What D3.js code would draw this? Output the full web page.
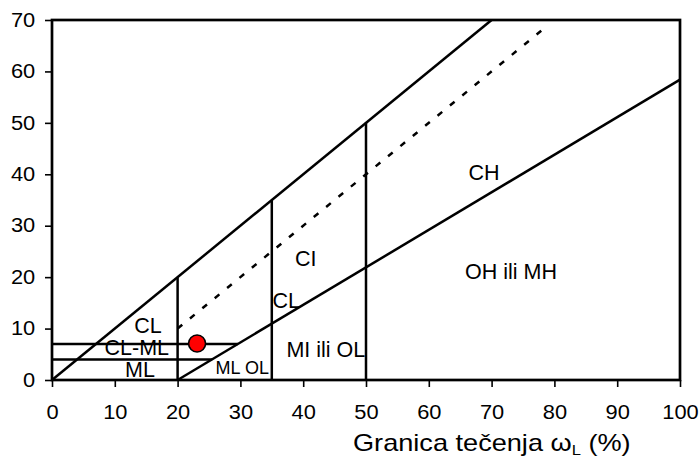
<!DOCTYPE html>
<html>
<head>
<meta charset="utf-8">
<script src="https://cdn.jsdelivr.net/npm/d3@7"></script>
<style>
  body { margin: 0; background: #fff; }
  text { font-family: "Liberation Sans", Arial, sans-serif; }
</style>
</head>
<body>
<div id="chart"></div>
<script>
// plasticity chart data (liquid limit vs plasticity index)
var xTicks = [0, 10, 20, 30, 40, 50, 60, 70, 80, 90, 100];
var yTicks = [0, 10, 20, 30, 40, 50, 60, 70];

// boundary lines, [x1, y1, x2, y2]
var solidLines = [
    [0, 0, 70, 70],          // upper line
    [20, 0, 100, 58.4],      // A-line 0.73(wL-20)
    [20, 0, 20, 20],
    [35, 0, 35, 35],
    [50, 0, 50, 50],
    [0, 7, 29.6, 7],
    [0, 4, 25.5, 4]
];
var dashedLines = [
    [20, 10, 79, 69]
];

var zoneNames = ["CL", "CL-ML", "ML", "ML OL", "MI ili OL", "CL", "CI", "CH", "OH ili MH"];
var zoneX = [15.3, 13.5, 14.0, 30.3, 43.6, 37.3, 40.4, 68.8, 73.1];
var zoneY = [9.1, 4.9, 0.6, 1.2, 4.5, 14.0, 22.2, 38.9, 19.6];

var samplePoint = [{wL: 23.1, Ip: 7.1}];

var width = 700, height = 457;
var margin = {left: 52, right: 20, top: 20, bottom: 77};
var sx = 1.12; // source text is a bit wider than Arial

var svg = d3.select("#chart")
    .append("svg")
    .attr("width", width)
    .attr("height", height);

var x = d3.scaleLinear()
    .domain([0, 100])
    .range([margin.left, width - margin.right]);

var y = d3.scaleLinear()
    .domain([0, 70])
    .range([height - margin.bottom, margin.top]);

// axes
svg.append("g")
    .attr("transform", "translate(0," + y(0) + ")")
    .call(d3.axisBottom(x).tickValues(xTicks).tickSize(7).tickPadding(18))
    .call(g => g.select(".domain").remove())
    .call(g => g.selectAll("line").attr("stroke", "#000").attr("stroke-width", 1.6))
    .selectAll("text")
        .attr("font-size", "19.5")
        .attr("fill", "#000")
        .attr("transform", "scale(" + sx + ",1)");

svg.append("g")
    .attr("transform", "translate(" + x(0) + ",0)")
    .call(d3.axisLeft(y).tickValues(yTicks).tickSize(7).tickPadding(8))
    .call(g => g.select(".domain").remove())
    .call(g => g.selectAll("line").attr("stroke", "#000").attr("stroke-width", 1.6))
    .selectAll("text")
        .attr("font-size", "19.5")
        .attr("fill", "#000")
        .attr("transform", "scale(" + sx + ",1)");

// frame
svg.append("rect")
    .attr("x", x(0))
    .attr("y", y(70))
    .attr("width", x(100) - x(0))
    .attr("height", y(0) - y(70))
    .attr("fill", "none")
    .attr("stroke", "#000")
    .attr("stroke-width", 2.7);

var lines = svg.append("g");

lines.selectAll(".solid")
    .data(solidLines)
    .enter()
    .append("line")
    .attr("x1", d => x(d[0]))
    .attr("y1", d => y(d[1]))
    .attr("x2", d => x(d[2]))
    .attr("y2", d => y(d[3]))
    .attr("stroke", "#000")
    .attr("stroke-width", 2.5);

lines.selectAll(".dashed")
    .data(dashedLines)
    .enter()
    .append("line")
    .attr("x1", d => x(d[0]))
    .attr("y1", d => y(d[1]))
    .attr("x2", d => x(d[2]))
    .attr("y2", d => y(d[3]))
    .attr("stroke", "#000")
    .attr("stroke-width", 2.5)
    .attr("stroke-dasharray", "6,10");

// zone labels
svg.append("g")
    .selectAll("text")
    .data(zoneNames)
    .enter()
    .append("text")
    .attr("x", (d, i) => x(zoneX[i]))
    .attr("y", (d, i) => y(zoneY[i]))
    .attr("text-anchor", "middle")
    .attr("font-size", d => d === "ML OL" ? "18" : "21.5")
    .attr("fill", "#000")
    .text(d => d);

// sample
svg.selectAll(".pt")
    .data(samplePoint)
    .enter()
    .append("circle")
    .attr("cx", d => x(d.wL))
    .attr("cy", d => y(d.Ip))
    .attr("r", 8.5)
    .attr("fill", "#ff0000")
    .attr("stroke", "#000")
    .attr("stroke-width", 1.6);

// axis title
var title = svg.append("text")
    .attr("transform", "translate(353,451) scale(1.18,1)")
    .attr("font-size", "23")
    .attr("fill", "#000");
title.append("tspan").text("Granica tečenja ω");
title.append("tspan").attr("font-size", "14").attr("dy", 4).text("L");
title.append("tspan").attr("dy", -4).text(" (%)");
</script>
</body>
</html>
